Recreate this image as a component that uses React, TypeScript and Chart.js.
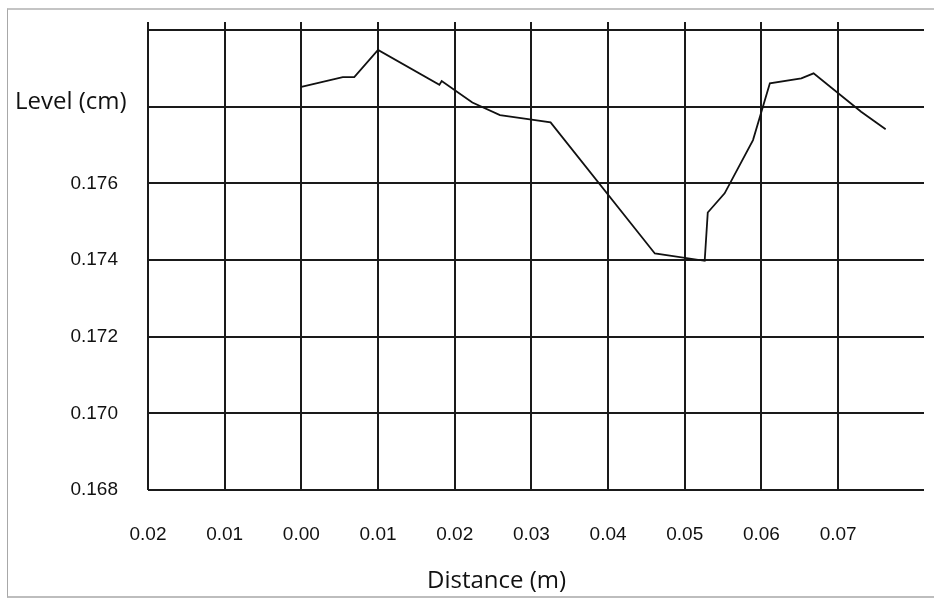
import React, { useEffect, useRef } from "react";
import { Chart, registerables } from "chart.js";

Chart.register(...registerables);

// Distance (m) and level (cm)
const distance = [
  0.0, 0.0054, 0.0069, 0.01, 0.018, 0.0183, 0.0223, 0.0259, 0.0298, 0.0325,
  0.0461, 0.0526, 0.053, 0.0552, 0.0589, 0.0611, 0.0652, 0.0668, 0.073, 0.0762,
];
const level = [
  0.17852, 0.17877, 0.17877, 0.17948, 0.17857, 0.17867, 0.17811, 0.17778, 0.17767, 0.17759,
  0.17417, 0.17398, 0.17524, 0.17574, 0.17713, 0.17861, 0.17874, 0.17887, 0.17787, 0.17741,
];
const xTicks = [-0.02, -0.01, 0.0, 0.01, 0.02, 0.03, 0.04, 0.05, 0.06, 0.07];
const yTicks = [0.168, 0.17, 0.172, 0.174, 0.176, 0.178, 0.18];
const yLabelled = [0.168, 0.17, 0.172, 0.174, 0.176];
const yTitle = "Level (cm)";
const xTitle = "Distance (m)";
const yTitleAt = 0.178;

const titlesPlugin = {
  id: "titles",
  afterDraw(chart: any) {
    const ctx = chart.ctx;
    const ys = chart.scales.y;
    ctx.save();
    ctx.fillStyle = "#111";
    ctx.textAlign = "left";
    ctx.textBaseline = "alphabetic";
    ctx.font = "24px 'Open Sans'";
    ctx.fillText(yTitle, 15, ys.getPixelForValue(yTitleAt) + 2);
    ctx.fillText(xTitle, 427, 588);
    ctx.restore();
  },
};

export default function App() {
  const ref = useRef<HTMLCanvasElement>(null);
  useEffect(() => {
    if (!ref.current) return;
    const gridColor = "#1a1a1a";
    const chart = new Chart(ref.current, {
      type: "line",
      data: {
        datasets: [
          {
            data: distance.map((d, i) => ({ x: d, y: level[i] })),
            borderColor: "#111",
            borderWidth: 1.8,
            pointRadius: 0,
            fill: false,
            tension: 0,
          },
        ],
      },
      options: {
        responsive: false,
        animation: false,
        events: [],
        layout: { padding: { top: 22, right: 10, left: 0, bottom: 0 } },
        plugins: { legend: { display: false }, tooltip: { enabled: false } },
        scales: {
          x: {
            type: "linear",
            min: -0.02,
            max: 0.0812,
            afterBuildTicks: (s: any) => {
              s.ticks = xTicks.map((v) => ({ value: v }));
            },
            afterFit: (s: any) => {
              s.height = 109;
              s.paddingLeft = 0;
              s.paddingRight = 0;
            },
            border: { display: false },
            grid: { color: gridColor, lineWidth: 2, drawTicks: false },
            ticks: {
              padding: 33,
              maxRotation: 0,
              autoSkip: false,
              color: "#111",
              font: { family: "'Liberation Sans', Arial", size: 19 },
              callback: (v: any) => Math.abs(Number(v)).toFixed(2),
            },
          },
          y: {
            type: "linear",
            min: 0.168,
            max: 0.18021,
            afterBuildTicks: (s: any) => {
              s.ticks = yTicks.map((v) => ({ value: v }));
            },
            afterFit: (s: any) => {
              s.width = 148;
              s.paddingTop = 0;
              s.paddingBottom = 0;
            },
            border: { display: false },
            grid: { color: gridColor, lineWidth: 2, drawTicks: false },
            ticks: {
              padding: 30,
              autoSkip: false,
              color: "#111",
              font: { family: "'Liberation Sans', Arial", size: 19 },
              callback: (v: any) => {
                const n = Number(v);
                return yLabelled.some((t) => Math.abs(t - n) < 1e-6) ? n.toFixed(3) : "";
              },
            },
          },
        },
      },
      plugins: [titlesPlugin],
    });
    return () => chart.destroy();
  }, []);
  return (
    <div style={{ position: "fixed", left: 0, top: 0, width: 934, height: 599, background: "#fff" }}>
      <div
        style={{
          position: "absolute",
          left: 7,
          top: 8,
          width: 940,
          height: 590,
          borderTop: "2px solid #c4c4c4",
          borderLeft: "1px solid #a8a8a8",
          borderBottom: "2px solid #bdbdbd",
          boxSizing: "border-box",
        }}
      />
      <canvas ref={ref} width={934} height={599} style={{ position: "absolute", left: 0, top: 0 }} />
    </div>
  );
}
